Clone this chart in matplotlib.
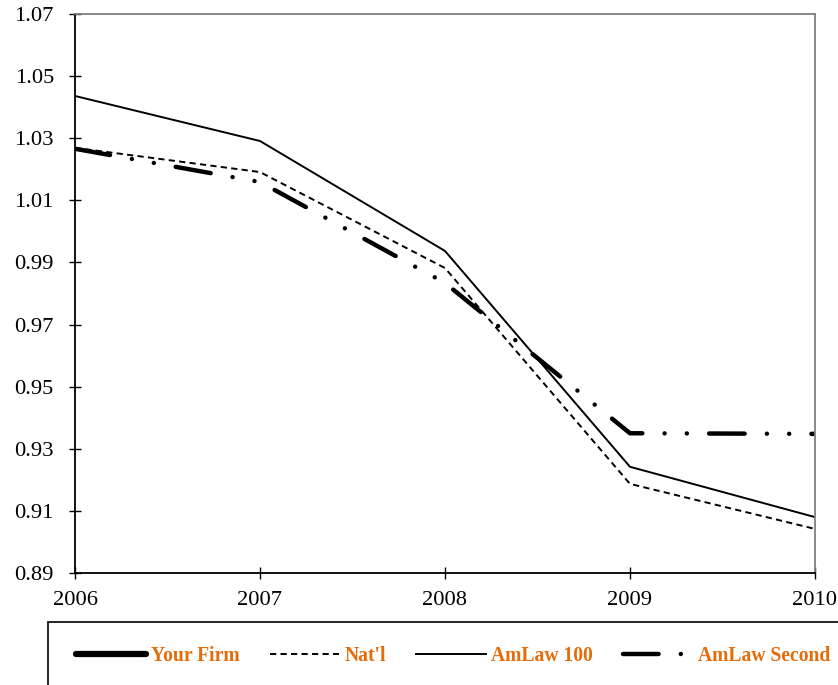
import numpy as np
import matplotlib
matplotlib.use("Agg")
import matplotlib.pyplot as plt
from matplotlib.patches import Rectangle

years = [2006, 2007, 2008, 2009, 2010]
your_firm = [np.nan, np.nan, np.nan, np.nan, np.nan]
natl = [1.0269, 1.0191, 0.9882, 0.9187, 0.9042]
amlaw_100 = [1.0436, 1.0291, 0.9937, 0.9242, 0.9080]
amlaw_second = [1.0266, 1.0159, 0.9834, 0.9350, 0.9348]
y_ticks = [0.89, 0.91, 0.93, 0.95, 0.97, 0.99, 1.01, 1.03, 1.05, 1.07]

plt.rcParams["font.family"] = ["Liberation Serif", "DejaVu Serif"]
label_color = "#E46C0A"

fig = plt.figure(figsize=(8.38, 6.85), dpi=100)
ax = fig.add_axes([0.0895, 0.1635, 0.883, 0.8161])

ax.plot(years, your_firm, color="black", lw=4.5, solid_capstyle="round",
        label="Your Firm")
ax.plot(years, natl, color="black", lw=1.4, linestyle=(0, (3.2, 2.2)),
        label="Nat'l")
ax.plot(years, amlaw_100, color="black", lw=1.4, label="AmLaw 100")
ax.plot(years, amlaw_second, color="black", lw=3.2,
        linestyle=(0, (8.0, 5.0, 0.01, 5.0, 0.01, 5.0)),
        dash_capstyle="round", label="AmLaw Second")

ax.set_xlim(2006, 2010)
ax.set_ylim(0.89, 1.07)
ax.set_xticks(years)
ax.set_yticks(y_ticks)
ax.set_yticklabels([f"{v:.2f}" for v in y_ticks])
ax.tick_params(axis="both", direction="inout", length=8.5, width=1,
               labelsize=16.2, color="black")
ax.tick_params(axis="y", pad=11)
ax.tick_params(axis="x", pad=9)

for side in ("left", "bottom"):
    ax.spines[side].set_color("black")
    ax.spines[side].set_linewidth(1.3)
for side in ("top", "right"):
    ax.spines[side].set_color("#808080")
    ax.spines[side].set_linewidth(1.3)

# legend box runs off the right and bottom edges
fig.patches.append(Rectangle((48 / 838, -0.05), 1.0, 1 - 622 / 685 + 0.05,
                             transform=fig.transFigure, fill=False,
                             edgecolor="black", lw=1.2))

handles, labels = ax.get_legend_handles_labels()
leg = fig.legend(handles, labels, loc="center left", ncol=4,
                 bbox_to_anchor=(76 / 838, 1 - 656 / 685), frameon=False,
                 borderpad=0, borderaxespad=0,
                 prop={"weight": "bold", "size": 14.1}, handlelength=3.55,
                 handletextpad=0.27, columnspacing=1.54)
for t in leg.get_texts():
    t.set_color(label_color)

fig.savefig("out.png", dpi=100)
